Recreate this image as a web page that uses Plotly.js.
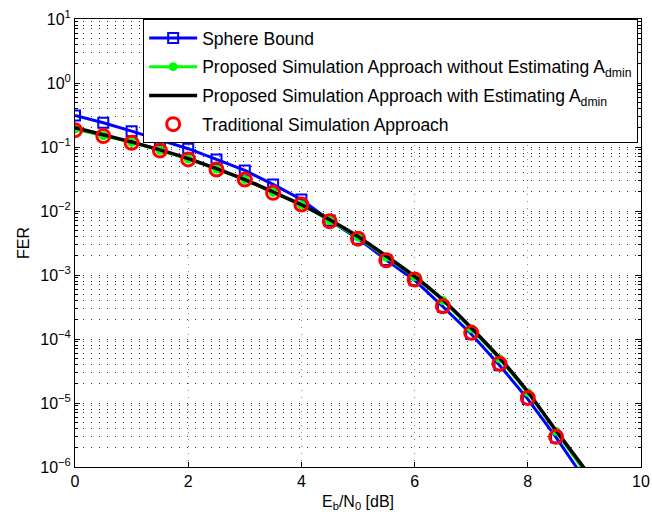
<!DOCTYPE html>
<html>
<head>
<meta charset="utf-8">
<script src="https://cdn.plot.ly/plotly-3.0.1.min.js"></script>
<style>
  html, body { margin: 0; padding: 0; background: #fff; }
  #chart { width: 652px; height: 518px; }
</style>
</head>
<body>
<div id="chart"></div>
<script>
// Eb/N0 sweep in dB
const ebno = [0, 0.5, 1, 1.5, 2, 2.5, 3, 3.5, 4, 4.5, 5, 5.5, 6, 6.5, 7, 7.5, 8, 8.5, 9];

// Frame error rate curves
const sphereBound = [0.31, 0.239, 0.177, 0.128, 0.094, 0.064, 0.043, 0.026, 0.0151,
                     0.0071, 0.0037, 0.00172, 8.3e-4, 3.2e-4, 1.2e-4, 3.9e-5, 1.15e-5, 2.9e-6, 6.5e-7];
const proposedNoEst = [0.19, 0.15, 0.118, 0.089, 0.065, 0.045, 0.031, 0.0195, 0.0125,
                       0.0071, 0.0039, 0.0019, 9.4e-4, 4.0e-4, 1.45e-4, 4.9e-5, 1.45e-5, 3.6e-6, 8.5e-7];
const proposedEst = [0.2, 0.155, 0.12, 0.09, 0.066, 0.046, 0.031, 0.0198, 0.0125,
                     0.0073, 0.0040, 0.00198, 9.5e-4, 4.1e-4, 1.5e-4, 5.1e-5, 1.5e-5, 3.7e-6, 9.5e-7];
const traditionalX = [0, 0.5, 1, 1.5, 2, 2.5, 3, 3.5, 4, 4.5, 5, 5.5, 6, 6.5, 7, 7.5, 8, 8.5];
const traditional = [0.183, 0.148, 0.116, 0.088, 0.064, 0.0445, 0.031, 0.0192, 0.0126,
                     0.0069, 0.0037, 0.0017, 8.5e-4, 3.25e-4, 1.25e-4, 4.1e-5, 1.2e-5, 2.96e-6];

// Axis tick labels
const xTickVals = [0, 2, 4, 6, 8, 10];
const yTickVals = [1e-6, 1e-5, 1e-4, 1e-3, 1e-2, 1e-1, 1, 10];
const yTickText = ['10<sup>\u22126</sup>', '10<sup>\u22125</sup>', '10<sup>\u22124</sup>',
                   '10<sup>\u22123</sup>', '10<sup>\u22122</sup>', '10<sup>\u22121</sup>',
                   '10<sup>0</sup>', '10<sup>1</sup>'];

// Minor log ticks 2..9 within each decade
const yMinor = [];
for (let e = -6; e < 1; e++) {
  for (let m = 2; m <= 9; m++) yMinor.push(m * Math.pow(10, e));
}

const FONT = 'Liberation Sans, Arial, Helvetica, sans-serif';

const traces = [
  {
    x: ebno, y: sphereBound, name: 'Sphere Bound', legendgroup: 'g1',
    mode: 'lines+markers',
    line: { color: '#0000ff', width: 3 },
    marker: { symbol: 'square-open', size: 10, color: '#0000ff', line: { width: 2, color: '#0000ff' } }
  },
  {
    x: ebno, y: proposedNoEst, legendgroup: 'g2',
    name: 'Proposed Simulation Approach without Estimating A<sub>dmin</sub>',
    mode: 'lines+markers',
    line: { color: '#00ff00', width: 3 },
    marker: { symbol: 'circle', size: 9, color: '#00ff00' }
  },
  {
    x: ebno, y: proposedEst, legendgroup: 'g3',
    name: 'Proposed Simulation Approach with Estimating A<sub>dmin</sub>',
    mode: 'lines',
    line: { color: '#000000', width: 3.5, shape: 'spline', smoothing: 0.6 }
  },
  {
    x: traditionalX, y: traditional, name: 'Traditional Simulation Approach', legendgroup: 'g4',
    mode: 'markers',
    marker: { symbol: 'circle-open', size: 13, color: '#ff0000', line: { width: 3, color: '#ff0000' } }
  }
];

const layout = {
  width: 652, height: 518,
  margin: { l: 75, r: 11, t: 19, b: 51 },
  paper_bgcolor: '#ffffff', plot_bgcolor: '#ffffff',
  font: { family: FONT, size: 16, color: '#000' },
  showlegend: true,
  legend: {
    x: 0.995, xanchor: 'right', y: 1.0, yanchor: 'top',
    bgcolor: '#ffffff', bordercolor: '#000000', borderwidth: 1,
    font: { family: FONT, size: 17.5, color: '#000' },
    itemwidth: 48, tracegroupgap: 3
  },
  xaxis: {
    range: [0, 10],
    tickmode: 'array', tickvals: xTickVals,
    ticks: 'inside', ticklen: 5, tickcolor: '#000',
    showline: true, linecolor: '#000', linewidth: 1, mirror: 'ticks',
    showgrid: true, gridcolor: '#888', gridwidth: 1, griddash: '1px,6px',
    zeroline: false,
    tickfont: { family: FONT, size: 16 },
    title: { text: 'E<sub>b</sub>/N<sub>0</sub> [dB]', font: { family: FONT, size: 16 }, standoff: 6 }
  },
  yaxis: {
    type: 'log', range: [-6, 1],
    tickmode: 'array', tickvals: yTickVals, ticktext: yTickText,
    ticks: 'inside', ticklen: 5, tickcolor: '#000',
    showline: true, linecolor: '#000', linewidth: 1, mirror: 'ticks',
    showgrid: true, gridcolor: '#333', gridwidth: 1, griddash: '1px,7px',
    zeroline: false,
    tickfont: { family: FONT, size: 16 },
    minor: {
      tickmode: 'array', tickvals: yMinor,
      ticks: 'inside', ticklen: 3, tickcolor: '#000',
      showgrid: true, gridcolor: '#333', gridwidth: 1, griddash: '1px,7px'
    },
    title: { text: 'FER', font: { family: FONT, size: 16 }, standoff: 6 }
  }
};

Plotly.newPlot('chart', traces, layout, { displayModeBar: false, staticPlot: true });
</script>
</body>
</html>
